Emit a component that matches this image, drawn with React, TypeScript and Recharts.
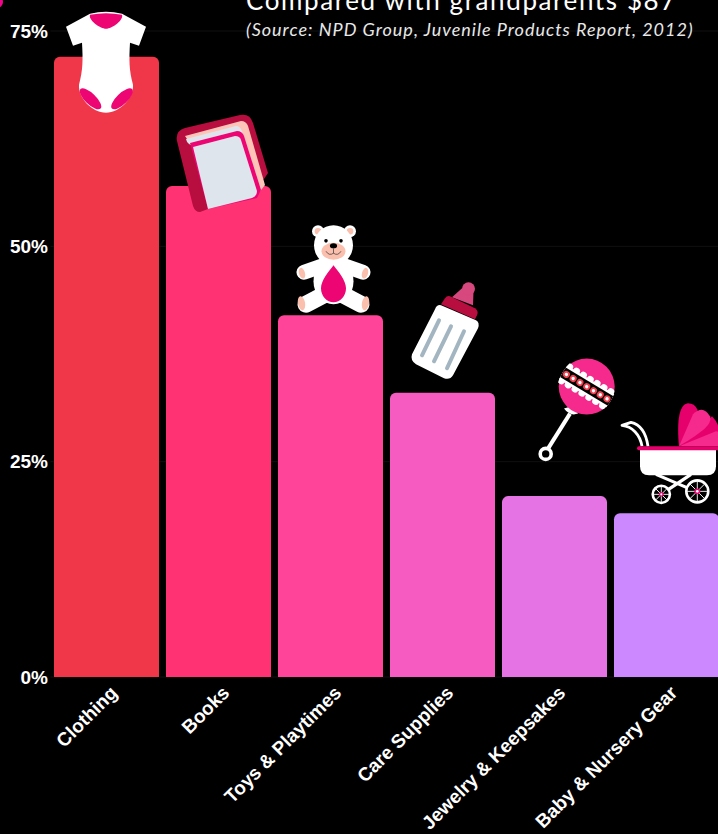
import React from 'react';
import { BarChart, Bar, XAxis, YAxis, CartesianGrid, Rectangle } from 'recharts';

const categories = ['Clothing', 'Books', 'Toys & Playtimes', 'Care Supplies', 'Jewelry & Keepsakes', 'Baby & Nursery Gear'];
const shares = [72, 57, 42, 33, 21, 19];
const barColors = ['#f03649', '#ff3374', '#ff4499', '#f55bc1', '#e673e3', '#cc88ff'];
const percentTicks = [0, 25, 50, 75];
const titleLine = 'Compared with grandparents $87';
const sourceLine = '(Source: NPD Group, Juvenile Products Report, 2012)';

const rows = categories.map((name, i) => ({ name, share: shares[i] }));

const MAGENTA = '#ec0573';
const CRIMSON = '#b80d3f';
const HOT = '#f52a8c';

// Each icon is authored in its own page-like space and anchored to the top-left of its bar.
const Onesie = () => (
  <g>
    <path d="M90 14 Q106 10 122 14 L146 27 L139 46 L130 43 C129 60 129 70 133 85 C134 98 120 113 106 113 C92 113 78 98 79 85 C83 70 83 60 82 43 L73 46 L66 27 Z" fill="#fff" />
    <path d="M90 15 Q106 12 122 15 C124 20 112 29 106 29 C100 29 88 20 90 15 Z" fill={MAGENTA} />
    <ellipse cx="90.5" cy="99" rx="14" ry="5.5" transform="rotate(44 90.5 99)" fill={MAGENTA} />
    <ellipse cx="122" cy="99" rx="14" ry="5.5" transform="rotate(-44 122 99)" fill={MAGENTA} />
  </g>
);

const Book = () => (
  <g>
    <path d="M177 141 Q175 131 185 128 L240 115 Q250 113 253 123 L268 173 L264 179 L208 209 L200 212 Q195 212 193 206 Z" fill={CRIMSON} />
    <path d="M185 136 L241 121 Q246 121 248 126 L265 185 L258 194 L192 146 Z" fill="#ffc4b8" />
    <path d="M186 139 L236 126 Q240 126 242 131 L250 160 L195 146 Q187 145 186 139 Z" fill="#dfe5ec" />
    <path d="M190 143 L237 131 Q242 131 244 136 L261 190 L257 198 L208 209 Z" fill={MAGENTA} />
    <path d="M193 147 L235 136 Q240 136 241 140 L257 191 Q257 196 252 198 L208 209 Z" fill="#dfe5ec" />
  </g>
);

const Teddy = () => (
  <g>
    <circle cx="318" cy="231" r="6" fill="#fff" />
    <circle cx="350" cy="231" r="6" fill="#fff" />
    <circle cx="318" cy="231" r="3.3" fill="#fbbfae" />
    <circle cx="350" cy="231" r="3.3" fill="#fbbfae" />
    <path d="M324 265 L304 272" stroke="#fff" strokeWidth="15" strokeLinecap="round" />
    <path d="M343 265 L363 272" stroke="#fff" strokeWidth="15" strokeLinecap="round" />
    <path d="M325 294 L306 304" stroke="#fff" strokeWidth="17" strokeLinecap="round" />
    <path d="M342 294 L361 304" stroke="#fff" strokeWidth="17" strokeLinecap="round" />
    <ellipse cx="333.5" cy="281" rx="20" ry="23" fill="#fff" />
    <ellipse cx="333.5" cy="245" rx="19.5" ry="20" fill="#fff" />
    <ellipse cx="333.5" cy="251" rx="12" ry="8.5" fill="#fbbfae" />
    <ellipse cx="333.5" cy="245.5" rx="3.6" ry="2.6" fill="#000" />
    <circle cx="326" cy="240.6" r="1.8" fill="#000" />
    <circle cx="341" cy="240.6" r="1.8" fill="#000" />
    <path d="M333.5 248 V253 M326 251 Q329 256 333.5 253 Q338 256 341 251" fill="none" stroke="#333" strokeWidth="0.7" />
    <path d="M333.5 265 C338 271 346 280 346 288 C346 296 340 302 333.5 302 C327 302 321 296 321 288 C321 280 329 271 333.5 265 Z" fill={MAGENTA} />
    <ellipse cx="302" cy="273" rx="3" ry="5.5" transform="rotate(-15 302 273)" fill="#fbbfae" />
    <ellipse cx="365" cy="273" rx="3" ry="5.5" transform="rotate(15 365 273)" fill="#fbbfae" />
    <ellipse cx="301.5" cy="303" rx="3.6" ry="7" transform="rotate(-10 301.5 303)" fill="#fbbfae" />
    <ellipse cx="365.5" cy="303" rx="3.6" ry="7" transform="rotate(10 365.5 303)" fill="#fbbfae" />
  </g>
);

const Bottle = () => (
  <g>
    <path d="M462 288 L452 297 L473 305 L473.5 291 Z" fill="#d6487e" />
    <circle cx="468.5" cy="288.5" r="6.5" fill="#d6487e" />
    <path d="M445 298 Q447 295 450 296 L475 308 Q479 311 477 315 L475 319 L441 304 Z" fill={CRIMSON} />
    <path d="M441 305 L476 320 Q480 322 478 328 L453 375 Q450 380 444 378 L416 364 Q410 360 412 354 L435 309 Q437 304 441 305 Z" fill="#fff" />
    <path d="M439 320 L422 355 M451 326 L434 361 M464 331 L447 368" stroke="#a3b5c0" strokeWidth="4" strokeLinecap="round" />
  </g>
);

const dotOffsets = [0, 1, 2, 3, 4, 5, 6];
const scallopOffsets = [-1, 0, 1, 2, 3, 4, 5, 6];

const Rattle = () => (
  <g>
    <path d="M570 413 L548 448" stroke="#fff" strokeWidth="4" />
    <path d="M564 408 Q570 416 578 413 L574 405 Z" fill="#fff" />
    <circle cx="545.7" cy="453.3" r="5.5" fill="none" stroke="#fff" strokeWidth="3.6" />
    <circle cx="586.7" cy="386" r="28" fill={HOT} />
    <g transform="rotate(31 586.7 386)">
      <clipPath id="rattle-band">
        <ellipse cx="586.7" cy="386" rx="28" ry="40" />
      </clipPath>
      <g clipPath="url(#rattle-band)">
        <rect x="556" y="378" width="62" height="16" fill="#fff" />
        {scallopOffsets.map((k) => (
          <g key={k}>
            <circle cx={562 + k * 8} cy="378" r="3.5" fill="#fff" />
            <circle cx={562 + k * 8} cy="394" r="3.5" fill="#fff" />
          </g>
        ))}
        <rect x="556" y="380.5" width="62" height="11" fill="#000" />
        {dotOffsets.map((k) => (
          <g key={k}>
            <circle cx={563 + k * 7.9} cy="386" r="3.5" fill="#f2404f" />
            <circle cx={563 + k * 7.9} cy="386" r="1.7" fill="#fff" />
          </g>
        ))}
      </g>
    </g>
  </g>
);

const spokes = [0, 45, 90, 135];

const Wheel = ({ cx, cy, r }: { cx: number; cy: number; r: number }) => (
  <g>
    <circle cx={cx} cy={cy} r={r} fill="#000" stroke="#fff" strokeWidth="2.6" />
    {spokes.map((a) => (
      <line key={a} x1={cx - r} y1={cy} x2={cx + r} y2={cy} stroke="#fff" strokeWidth="0.9" transform={`rotate(${a} ${cx} ${cy})`} />
    ))}
    <circle cx={cx} cy={cy} r={r * 0.27} fill={MAGENTA} />
    <circle cx={cx} cy={cy} r={r * 0.12} fill="#fff" />
  </g>
);

const Stroller = () => (
  <g>
    <path d="M648 446 C646 432 640 424 631 422 L622 425 C632 426 640 434 642 446" fill="none" stroke="#fff" strokeWidth="2.8" strokeLinejoin="round" />
    <path d="M679 446 L712 416 Q720 424 720 436 Z" fill="#e6006c" />
    <path d="M679 446 C677 425 678 404 688 403 C697 403 700 412 698 422 Z" fill="#e6006c" />
    <path d="M679 446 L693 414 Q703 404 710 416 C712 424 705 430 679 446 Z" fill={HOT} />
    <path d="M679 446 L716 431 L724 433 L724 446 Z" fill={HOT} />
    <path d="M656 474 L698 492 M691 474 L661 494" stroke="#fff" strokeWidth="3.2" />
    <path d="M640 449 H716 V466 Q716 475 707 475 H649 Q640 475 640 466 Z" fill="#fff" />
    <rect x="637" y="446" width="85" height="4" rx="2" fill="#e6006c" />
    <Wheel cx={661.3} cy={494} r={8.6} />
    <Wheel cx={697.3} cy={491} r={11} />
  </g>
);

const iconSet = [
  { Icon: Onesie, originX: 54, originY: 57 },
  { Icon: Book, originX: 166, originY: 186 },
  { Icon: Teddy, originX: 278, originY: 315 },
  { Icon: Bottle, originX: 390, originY: 392.5 },
  { Icon: Rattle, originX: 502, originY: 495.5 },
  { Icon: Stroller, originX: 614, originY: 513 },
];

// Bar with rounded shoulders and its category's pictogram riding on top.
const IconBar = (props: any) => {
  const { x, y, width, height, index } = props;
  const { Icon, originX, originY } = iconSet[index];
  return (
    <g>
      <Rectangle x={x} y={y} width={width} height={height} fill={barColors[index]} radius={[6, 6, 0, 0]} />
      <g transform={`translate(${x - originX} ${y - originY})`}>
        <Icon />
      </g>
    </g>
  );
};

const SlantedTick = (props: any) => {
  const { x, y, payload } = props;
  const ax = x + 12;
  const ay = y + 9;
  return (
    <text x={ax} y={ay} textAnchor="end" transform={`rotate(-45 ${ax} ${ay})`} fill="#fff" fontFamily="'Liberation Sans', Arial, sans-serif" fontWeight="700" fontSize={19}>
      {payload.value}
    </text>
  );
};

export default function App() {
  return (
    <div style={{ position: 'absolute', left: 0, top: 0, width: 718, height: 834, overflow: 'hidden', background: '#000' }}>
      <BarChart
        width={760}
        height={834}
        data={rows}
        margin={{ top: 31, right: 37.5, bottom: 0, left: 0 }}
        barCategoryGap={3.5}
      >
        <CartesianGrid horizontal vertical={false} stroke="#101010" />
        <XAxis dataKey="name" interval={0} axisLine={false} tickLine={false} height={157} tick={<SlantedTick />} />
        <YAxis
          width={50.5}
          domain={[0, 75]}
          ticks={percentTicks}
          tickFormatter={(v: number) => `${v}%`}
          axisLine={false}
          tickLine={false}
          tickSize={0}
          tickMargin={2.5}
          tick={{ fill: '#fff', fontFamily: "'Liberation Sans', Arial, sans-serif", fontWeight: 700, fontSize: 19 }}
        />
        <Bar dataKey="share" isAnimationActive={false} shape={<IconBar />} />
        <circle cx={-3} cy={2} r={6} fill="#f0058a" />
        <text x={246} y={10} fill="#fff" fontFamily="Lato, sans-serif" fontSize={26} letterSpacing={1.6}>{titleLine}</text>
        <text x={246} y={36} fill="#e8e8e8" fontFamily="Lato, sans-serif" fontStyle="italic" fontSize={18} letterSpacing={1}>{sourceLine}</text>
      </BarChart>
    </div>
  );
}
